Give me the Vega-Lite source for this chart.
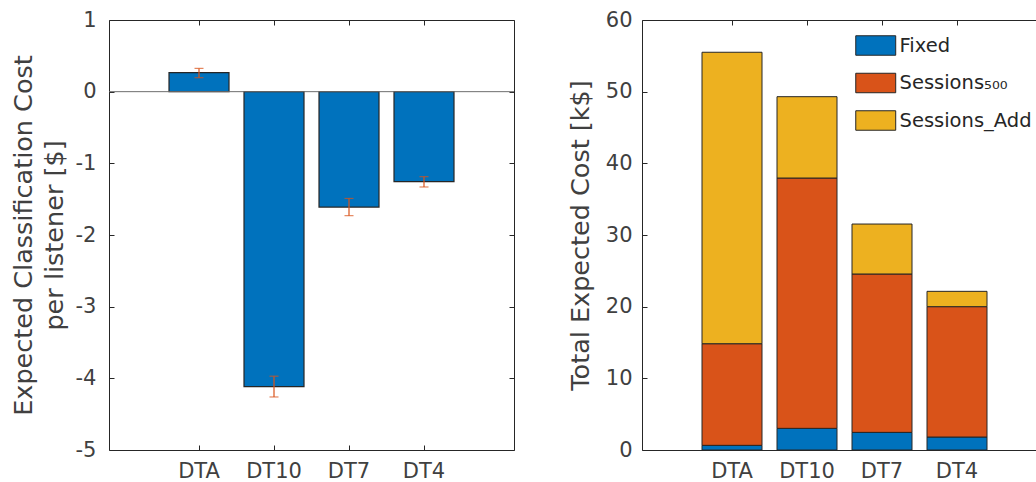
{
  "$schema": "https://vega.github.io/schema/vega-lite/v6.json",
  "padding": {"left": 10, "top": 8, "right": 0, "bottom": 0},
  "background": "white",
  "spacing": 128,
  "bounds": "flush",
  "config": {
    "view": {"stroke": "#262626", "strokeWidth": 1},
    "font": "DejaVu Sans",
    "axis": {
      "domain": false, "grid": false, "tickColor": "#262626", "tickSize": -5, "tickWidth": 1,
      "labelFont": "DejaVu Sans", "labelFontSize": 21, "labelColor": "#404040",
      "titleFont": "DejaVu Sans", "titleFontSize": 25.5, "titleFontWeight": "normal", "titleColor": "#404040",
      "zindex": 1
    }
  },
  "hconcat": [
    {
      "width": 405, "height": 430,
      "data": {"values": [
        {"method": "DTA", "cost": 0.265, "lo": 0.195, "hi": 0.325},
        {"method": "DT10", "cost": -4.116, "lo": -4.26, "hi": -3.97},
        {"method": "DT7", "cost": -1.61, "lo": -1.73, "hi": -1.49},
        {"method": "DT4", "cost": -1.256, "lo": -1.33, "hi": -1.186}
      ]},
      "layer": [
        {
          "mark": {"type": "bar", "color": "#0072BD", "stroke": "#262626", "strokeWidth": 1.2},
          "encoding": {
            "x": {"field": "method", "type": "nominal", "sort": null,
                  "scale": {"paddingInner": 0.2, "paddingOuter": 0.8},
                  "axis": {"orient": "bottom", "labelAngle": 0, "title": null, "labelPadding": 15}},
            "y": {"field": "cost", "type": "quantitative",
                  "scale": {"domain": [-5, 1], "nice": false},
                  "axis": {"orient": "left", "values": [-5, -4, -3, -2, -1, 0, 1], "labelPadding": 18,
                           "labelExpr": "'' + datum.value",
                           "title": ["Expected Classification Cost", "per listener [$]"], "titleLineHeight": 31, "titlePadding": 8}},
            "y2": {"datum": 0}
          }
        },
        {
          "data": {"values": [{"zero": 0}]},
          "mark": {"type": "rule", "color": "#6e6e6e", "strokeWidth": 1},
          "encoding": {"y": {"field": "zero", "type": "quantitative", "axis": null}}
        },
        {
          "mark": {"type": "rule", "color": "#D95319", "strokeWidth": 1.2},
          "encoding": {
            "x": {"field": "method", "type": "nominal", "sort": null,
                  "axis": {"orient": "top", "labels": false, "title": null}},
            "y": {"field": "lo", "type": "quantitative",
                  "axis": {"orient": "right", "labels": false, "title": null, "values": [-5, -4, -3, -2, -1, 0, 1]}},
            "y2": {"field": "hi"}
          }
        },
        {
          "mark": {"type": "tick", "color": "#D95319", "size": 9, "thickness": 1.2},
          "encoding": {
            "x": {"field": "method", "type": "nominal", "sort": null, "axis": null},
            "y": {"field": "lo", "type": "quantitative", "axis": null}
          }
        },
        {
          "mark": {"type": "tick", "color": "#D95319", "size": 9, "thickness": 1.2},
          "encoding": {
            "x": {"field": "method", "type": "nominal", "sort": null, "axis": null},
            "y": {"field": "hi", "type": "quantitative", "axis": null}
          }
        }
      ],
      "resolve": {"axis": {"x": "independent", "y": "independent"}}
    },
    {
      "width": 394, "height": 430,
      "data": {"values": [
        {"method": "DTA", "component": "Fixed", "ord": 1, "value": 0.65},
        {"method": "DTA", "component": "Sessions500", "ord": 2, "value": 14.18},
        {"method": "DTA", "component": "SessionsAdd", "ord": 3, "value": 40.67},
        {"method": "DT10", "component": "Fixed", "ord": 1, "value": 3.02},
        {"method": "DT10", "component": "Sessions500", "ord": 2, "value": 34.93},
        {"method": "DT10", "component": "SessionsAdd", "ord": 3, "value": 11.35},
        {"method": "DT7", "component": "Fixed", "ord": 1, "value": 2.46},
        {"method": "DT7", "component": "Sessions500", "ord": 2, "value": 22.1},
        {"method": "DT7", "component": "SessionsAdd", "ord": 3, "value": 6.97},
        {"method": "DT4", "component": "Fixed", "ord": 1, "value": 1.81},
        {"method": "DT4", "component": "Sessions500", "ord": 2, "value": 18.19},
        {"method": "DT4", "component": "SessionsAdd", "ord": 3, "value": 2.14}
      ]},
      "layer": [
        {
          "mark": {"type": "bar", "stroke": "#262626", "strokeWidth": 1},
          "encoding": {
            "x": {"field": "method", "type": "nominal", "sort": ["DTA", "DT10", "DT7", "DT4"],
                  "scale": {"paddingInner": 0.2, "paddingOuter": 0.8, "range": [0, 405]},
                  "axis": {"orient": "bottom", "labelAngle": 0, "title": null, "labelPadding": 15}},
            "y": {"field": "value", "type": "quantitative", "stack": "zero",
                  "scale": {"domain": [0, 60], "nice": false},
                  "axis": {"orient": "left", "values": [0, 10, 20, 30, 40, 50, 60], "labelPadding": 15,
                           "title": "Total Expected Cost [k$]", "titlePadding": 12}},
            "color": {"field": "component", "type": "nominal",
                      "scale": {"domain": ["Fixed", "Sessions500", "SessionsAdd"], "range": ["#0072BD", "#D95319", "#EDB120"]},
                      "legend": {"orient": "none", "legendX": 746, "legendY": 15, "title": null, "padding": 0,
                                 "symbolType": "M-1,-1H3.1V1H-1Z", "symbolSize": 380,
                                 "symbolStrokeColor": "#262626", "symbolStrokeWidth": 1, "symbolOpacity": 1,
                                 "labelFont": "DejaVu Sans", "labelFontSize": 19.5, "labelColor": "#262626",
                                 "labelOffset": 23.5, "rowPadding": 12.5, "labelLimit": 300,
                                 "labelExpr": "datum.label == 'Sessions500' ? 'Sessions₅₀₀' : datum.label == 'SessionsAdd' ? 'Sessions_Add' : datum.label"}},
            "order": {"field": "ord", "type": "quantitative"}
          }
        },
        {
          "mark": {"type": "rule", "opacity": 0},
          "encoding": {
            "x": {"field": "method", "type": "nominal", "sort": ["DTA", "DT10", "DT7", "DT4"],
                  "axis": {"orient": "top", "labels": false, "title": null}}
          }
        }
      ],
      "resolve": {"axis": {"x": "independent"}}
    }
  ]
}
